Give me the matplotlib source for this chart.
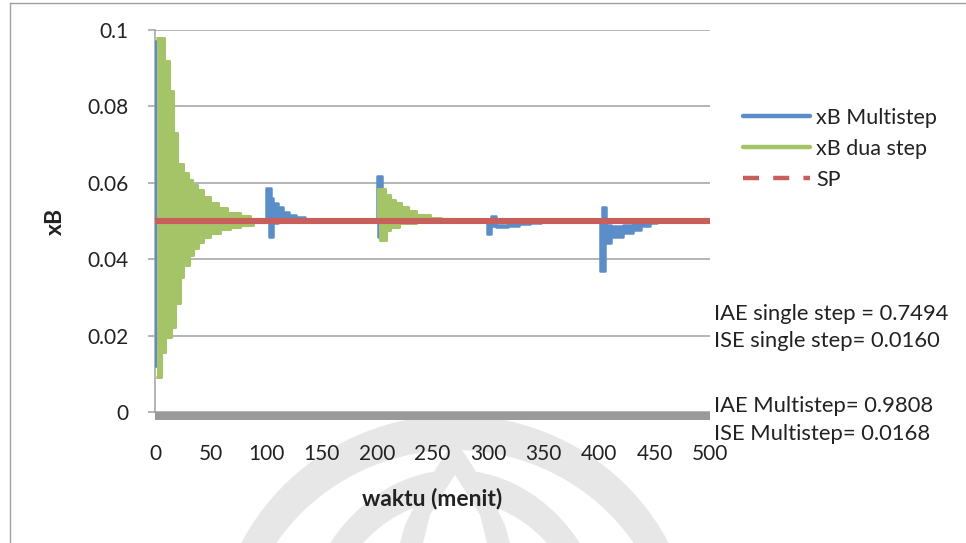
import matplotlib.pyplot as plt
from matplotlib.lines import Line2D
from matplotlib.patches import Rectangle, Ellipse, Polygon

plt.rcParams['font.family'] = ['Lato', 'DejaVu Sans']

W, H = 966, 543

x_ticks = [0, 50, 100, 150, 200, 250, 300, 350, 400, 450, 500]
y_ticks = [0, 0.02, 0.04, 0.06, 0.08, 0.1]
y_tick_labels = ['0', '0.02', '0.04', '0.06', '0.08', '0.1']

# xB Multistep: waktu, batas atas, batas bawah osilasi
multi_t = [0, 1.5,
           100, 102.5, 104.5, 106.5, 111, 115, 121, 127, 135, 146,
           200, 201, 204.5, 206, 210, 216, 222, 230, 240, 250,
           299.5, 303, 307, 318, 328, 338, 348,
           400.5, 403, 405, 406.5, 411, 422, 431, 438, 446, 452, 466, 500]
multi_hi = [0.097, 0.0501,
            0.0587, 0.0587, 0.0559, 0.0546, 0.0537, 0.0524, 0.0516, 0.0510, 0.0503, 0.0501,
            0.0618, 0.0618, 0.0560, 0.0560, 0.0545, 0.0530, 0.0522, 0.0510, 0.0503, 0.0501,
            0.0501, 0.0513, 0.0489, 0.0492, 0.0495, 0.0498, 0.0501,
            0.0501, 0.0537, 0.0537, 0.0490, 0.0488, 0.0490, 0.0492, 0.0495, 0.0499, 0.0506, 0.0502, 0.0501]
multi_lo = [0.012, 0.0499,
            0.0499, 0.0457, 0.0457, 0.0496, 0.0498, 0.0499, 0.0499, 0.0499, 0.0499, 0.0499,
            0.0499, 0.0459, 0.0459, 0.0495, 0.0497, 0.0498, 0.0499, 0.0499, 0.0499, 0.0499,
            0.0465, 0.0487, 0.0485, 0.0488, 0.0491, 0.0495, 0.0499,
            0.0370, 0.0370, 0.0442, 0.0442, 0.0459, 0.0468, 0.0476, 0.0487, 0.0496, 0.0502, 0.0500, 0.0499]

# xB dua step
dua_t = [1.5, 5, 8, 9, 13, 14, 16.5, 18, 20, 22.5, 25, 25.5, 30, 31, 33, 34.5, 37.5, 39,
         43.5, 49.5, 57, 58.5, 64.5, 67.5, 76.5, 85.5, 88, 101,
         201, 203, 207, 208.5, 212, 216, 220, 222, 228, 235, 248, 258, 270, 500]
dua_hi = [0.098, 0.098, 0.092, 0.092, 0.084, 0.084, 0.073, 0.073, 0.065, 0.065, 0.0626, 0.0626, 0.0607, 0.0607,
          0.0594, 0.0594, 0.0581, 0.0581, 0.0564, 0.0547, 0.0534, 0.0534, 0.0522, 0.0522, 0.0513, 0.0505, 0.0505, 0.0501,
          0.0583, 0.0583, 0.0568, 0.0568, 0.0555, 0.0546, 0.0546, 0.0537, 0.0527, 0.0516, 0.0509, 0.0504, 0.0501, 0.0501]
dua_lo = [0.0092, 0.0158, 0.0158, 0.0197, 0.0197, 0.0223, 0.0223, 0.0285, 0.0285, 0.0354, 0.0354, 0.0385, 0.0385, 0.0411,
          0.0411, 0.0429, 0.0429, 0.0446, 0.0459, 0.0468, 0.0468, 0.0479, 0.0479, 0.0485, 0.0490, 0.0490, 0.0497, 0.0499,
          0.0499, 0.0450, 0.0450, 0.0476, 0.0485, 0.0485, 0.0494, 0.0494, 0.0494, 0.0499, 0.0499, 0.0499, 0.0499, 0.0499]

sp_t = [0, 500]
sp = [0.05, 0.05]

blue = '#5b8dc8'
green = '#a4c467'
red = '#c95f5b'
grey = '#a0a0a0'
ink = '#222222'
mark = '#e7e7e7'

fig = plt.figure(figsize=(W / 100, H / 100), dpi=100)


def px(x, y):
    return x / W, 1 - y / H


# logo samar di bagian bawah
for cx, cy, w, h, c in [(455, 650, 480, 470, mark), (455, 660, 430, 420, 'white'),
                        (455, 665, 320, 390, mark), (455, 675, 280, 350, 'white')]:
    fig.add_artist(Ellipse(px(cx, cy), w / W, h / H, color=c, lw=0, zorder=0))
flame = [(455, 440), (470, 462), (490, 495), (505, 525), (510, 543),
         (400, 543), (405, 525), (420, 495), (440, 462)]
inner = [(455, 475), (466, 492), (480, 515), (487, 543),
         (423, 543), (430, 515), (444, 492)]
fig.add_artist(Polygon([px(*p) for p in flame], closed=True, color=mark, lw=0, zorder=0))
fig.add_artist(Polygon([px(*p) for p in inner], closed=True, color='white', lw=0, zorder=0))

ax = fig.add_axes([155 / W, 1 - 412 / H, 555 / W, 382 / H])
ax.set_facecolor('none')


def band(t, hi, lo, color, z, lw=2.2):
    ax.fill_between(t, lo, hi, step='post', color=color, lw=0, zorder=z)
    for y in (hi, lo):
        ax.step(t, y, where='post', color=color, lw=lw, zorder=z,
                solid_joinstyle='round', solid_capstyle='round')


band(multi_t, multi_hi, multi_lo, blue, 3, lw=1.8)
band(dua_t, dua_hi, dua_lo, green, 4)
ax.plot(sp_t, sp, color=red, lw=4.4, solid_capstyle='butt', zorder=5)

ax.set_xlim(0, 500)
ax.set_ylim(0, 0.1)
ax.set_xticks(x_ticks)
ax.set_yticks(y_ticks)
ax.set_yticklabels(y_tick_labels)
ax.grid(axis='y', color=grey, lw=1.1)
ax.set_axisbelow(True)
ax.tick_params(axis='y', length=5, width=1.1, color=grey, pad=14, labelsize=15, labelcolor=ink)
ax.tick_params(axis='x', length=0, pad=23, labelsize=15, labelcolor=ink)
for s in ('top', 'right', 'bottom'):
    ax.spines[s].set_visible(False)
ax.spines['left'].set_color(grey)
ax.spines['left'].set_linewidth(1.1)

# sumbu nol dibuat tebal
ax.add_patch(Rectangle((0, -8 / 382), 1, 8 / 382, transform=ax.transAxes,
                       color='#9a9a9a', lw=0, clip_on=False, zorder=6))

ax.set_xlabel('waktu (menit)', fontsize=16.5, fontweight='bold', color=ink)
ax.xaxis.set_label_coords(0.5, (412 - 488) / 382)
ax.set_ylabel('xB', fontsize=16.5, fontweight='bold', color=ink)
ax.yaxis.set_label_coords((66 - 155) / 555, 0.5)

handles = [Line2D([], [], color=blue, lw=3.2, solid_capstyle='round'),
           Line2D([], [], color=green, lw=3.2, solid_capstyle='round'),
           Line2D([], [], color=red, lw=3.2, dashes=(3.6, 3.2))]
fig.legend(handles, ['xB Multistep', 'xB dua step', 'SP'], loc='upper left',
           bbox_to_anchor=(743 / W, 1 - 108 / H), frameon=False, fontsize=15.5,
           handlelength=3.1, handletextpad=0.3, labelspacing=0.5,
           borderpad=0, borderaxespad=0, labelcolor=ink)

notes = [('IAE single step = 0.7494', 320), ('ISE single step= 0.0160', 347),
         ('IAE Multistep= 0.9808', 412), ('ISE Multistep= 0.0168', 440)]
for txt, yb in notes:
    fig.text(714 / W, 1 - yb / H, txt, fontsize=15.8, va='baseline', ha='left', color=ink)

# bingkai luar
fig.add_artist(Line2D([9.5 / W, 9.5 / W], [0, 1 - 2.5 / H], color=grey, lw=1))
fig.add_artist(Line2D([9.5 / W, 1], [1 - 2.5 / H, 1 - 2.5 / H], color=grey, lw=1))

fig.savefig('out.png', dpi=100)
